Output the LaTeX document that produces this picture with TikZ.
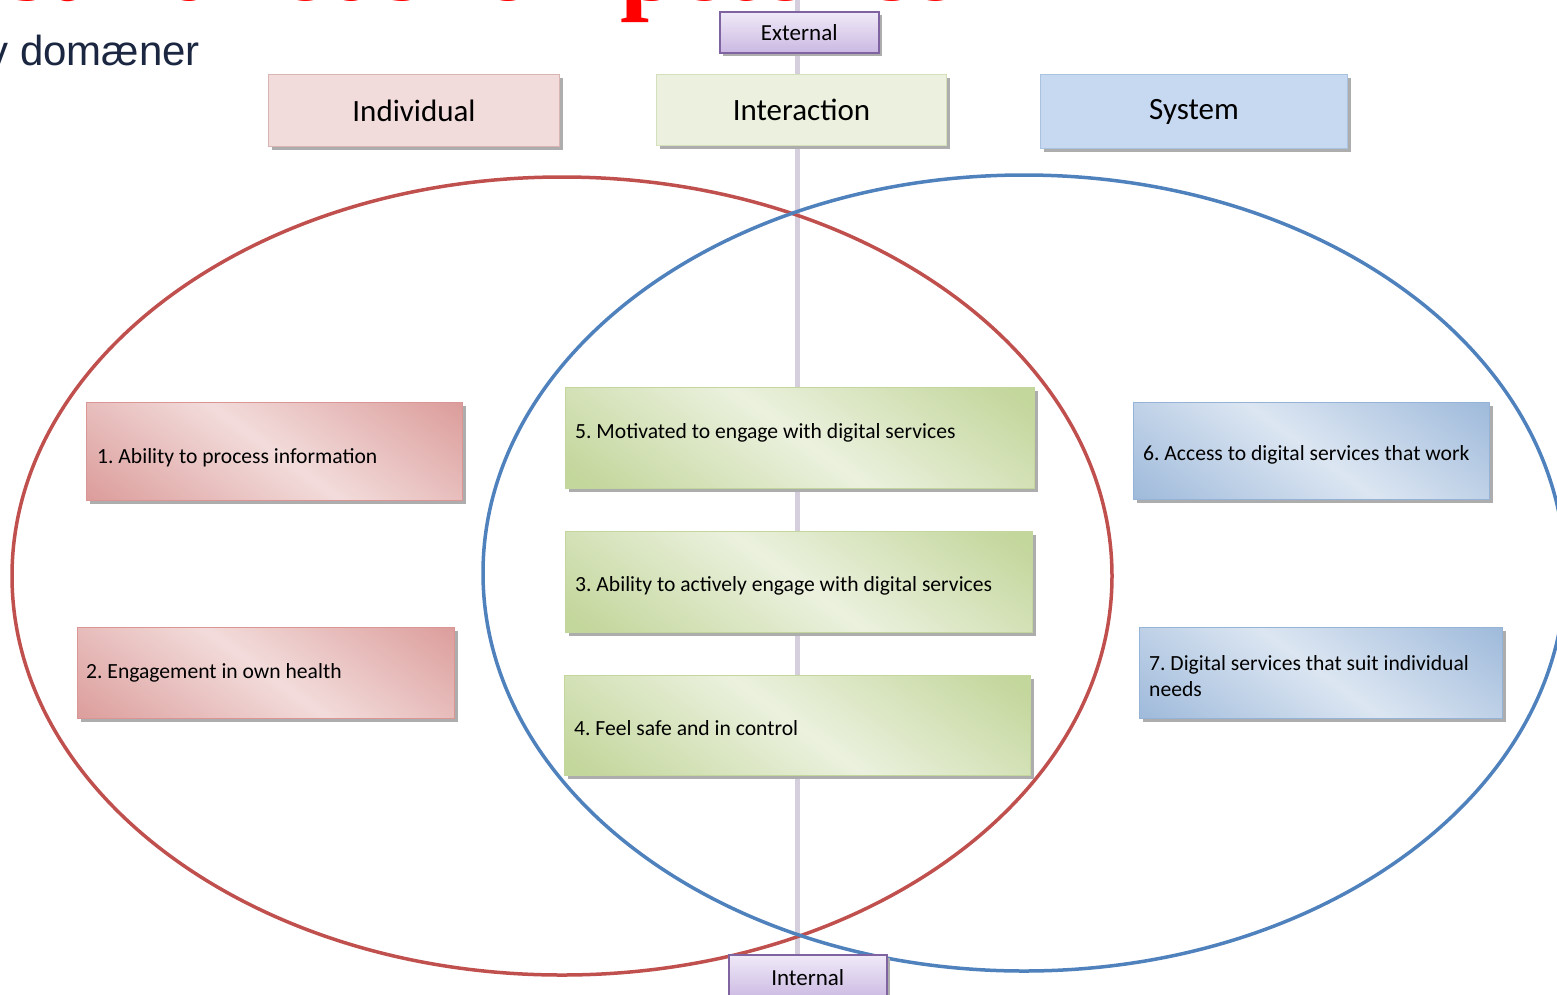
\documentclass[tikz,border=0pt]{standalone}
\usepackage{fontspec}
\setmainfont{Carlito}
\newfontfamily\arialf{Liberation Sans}
\newfontfamily\timesf{Liberation Serif}
\usetikzlibrary{shadows,backgrounds}
\frenchspacing
\definecolor{rline}{HTML}{C0504D}
\definecolor{bline}{HTML}{4F81BD}
\definecolor{rdark}{HTML}{D99694}
\definecolor{rlight}{HTML}{F2DCDB}
\definecolor{gdark}{HTML}{C3D69B}
\definecolor{glight}{HTML}{EBF1DE}
\definecolor{bdark}{HTML}{95B3D7}
\definecolor{blight}{HTML}{DCE6F2}
\definecolor{ptop}{HTML}{F0EAF8}
\definecolor{pbot}{HTML}{CBB8E2}
\definecolor{pborder}{HTML}{8064A2}
\definecolor{vline}{HTML}{D5CEDD}
\definecolor{navy}{HTML}{1B2640}
\definecolor{hred}{HTML}{F2DCDB}
\definecolor{hredb}{HTML}{D8B4B3}
\definecolor{hgreen}{HTML}{EBF1DE}
\definecolor{hgreenb}{HTML}{D3E0BA}
\definecolor{hblue}{HTML}{C6D9F1}
\definecolor{hblueb}{HTML}{A9C2E0}
\tikzset{
  shd/.style={general shadow={fill=black!32, shadow xshift=3pt, shadow yshift=-3.5pt}},
  diag/.style 2 args={path picture={
      \begin{scope}[transform canvas={rotate around={-36:(path picture bounding box.center)}}]
        \shade[top color=#1, bottom color=#1, middle color=#2]
          ([shift={(-500,-165)}]path picture bounding box.center) rectangle
          ([shift={(500,165)}]path picture bounding box.center);
      \end{scope}}},
  itembox/.style={anchor=north west, line width=1pt, inner sep=0pt, shd},
  itemtext/.style={anchor=west, inner sep=0pt, align=left, font=\fontsize{21.6}{26.5}\selectfont},
  rbox/.style={itembox, draw=rdark, fill=rdark, diag={rdark}{rlight}},
  gbox/.style={itembox, draw=gdark, fill=gdark, diag={gdark}{glight}},
  bbox/.style={itembox, draw=bdark, fill=bdark, diag={bdark}{blight}},
  hdrbox/.style={anchor=north west, line width=1pt, inner sep=0pt, align=center,
    font=\fontsize{31}{36}\selectfont, shd},
  pbox/.style={anchor=north west, line width=1.5pt, draw=pborder, top color=ptop, bottom color=pbot,
    inner sep=0pt, font=\fontsize{23}{26}\selectfont, shd},
  ell/.style={line width=3.5pt}
}
\begin{document}
\begin{tikzpicture}[x=1pt,y=-1pt]
\useasboundingbox (0,0) rectangle (1557,994);
% titles (cut off by the page)
\node[anchor=base east, inner sep=0pt, text=red, font=\timesf\bfseries\fontsize{104}{110}\selectfont] (title) at (956,0) {Digital sundhedskompetence};
\node[anchor=base east, inner sep=0pt, text=navy, font=\arialf\fontsize{42}{48}\selectfont] (subtitle) at (200,65) {Syv domæner};
% headers
\node[hdrbox, draw=hredb, fill=hred, minimum width=291pt, minimum height=72pt] (ind) at (268,74) {Individual};
\node[hdrbox, draw=hgreenb, fill=hgreen, minimum width=290pt, minimum height=71pt] (inter) at (656,74) {Interaction};
\node[hdrbox, draw=hblueb, fill=hblue, minimum width=307pt, minimum height=74pt] (sys) at (1040,74) {System};
\node[pbox, minimum width=159pt, minimum height=41pt] (ext) at (719,11) {External};
\node[pbox, minimum width=158pt, minimum height=45pt] (int) at (728,954) {Internal};
% item boxes
\node[rbox, minimum width=376pt, minimum height=98pt] (d1) at (86,402) {};
\node[rbox, minimum width=377pt, minimum height=91pt] (d2) at (77,627) {};
\node[gbox, minimum width=469pt, minimum height=101pt] (d5) at (565,387) {};
\node[gbox, minimum width=467pt, minimum height=101pt] (d3) at (565,531) {};
\node[gbox, minimum width=466pt, minimum height=100pt] (d4) at (564,675) {};
\node[bbox, minimum width=356pt, minimum height=97pt] (d6) at (1133,402) {};
\node[bbox, minimum width=363pt, minimum height=91pt] (d7) at (1139,627) {};
% item texts
\node[itemtext] (t1) at (97,458) {1. Ability to process information};
\node[itemtext] (t2) at (86,673) {2. Engagement in own health};
\node[itemtext] (t5) at (575,433) {5. Motivated to engage with digital services};
\node[itemtext] (t3) at (575,586) {3. Ability to actively engage with digital services};
\node[itemtext] (t4) at (574,728) {4. Feel safe and in control};
\node[itemtext] (t6) at (1143,455) {6. Access to digital services that work};
\node[itemtext] (t7) at (1149,676) {7. Digital services that suit individual\\needs};
% axis and ellipses behind
\begin{scope}[on background layer]
  \coordinate (vtop) at (797,0);
  \coordinate (vbot) at (797,956);
  \draw[vline, line width=5pt] (vtop) -- (vbot);
  \draw[ell, rline] (562,576) ellipse [x radius=550pt, y radius=399pt];
  \draw[ell, bline] (1024,573) ellipse [x radius=541pt, y radius=398pt];
\end{scope}
\end{tikzpicture}
\end{document}
